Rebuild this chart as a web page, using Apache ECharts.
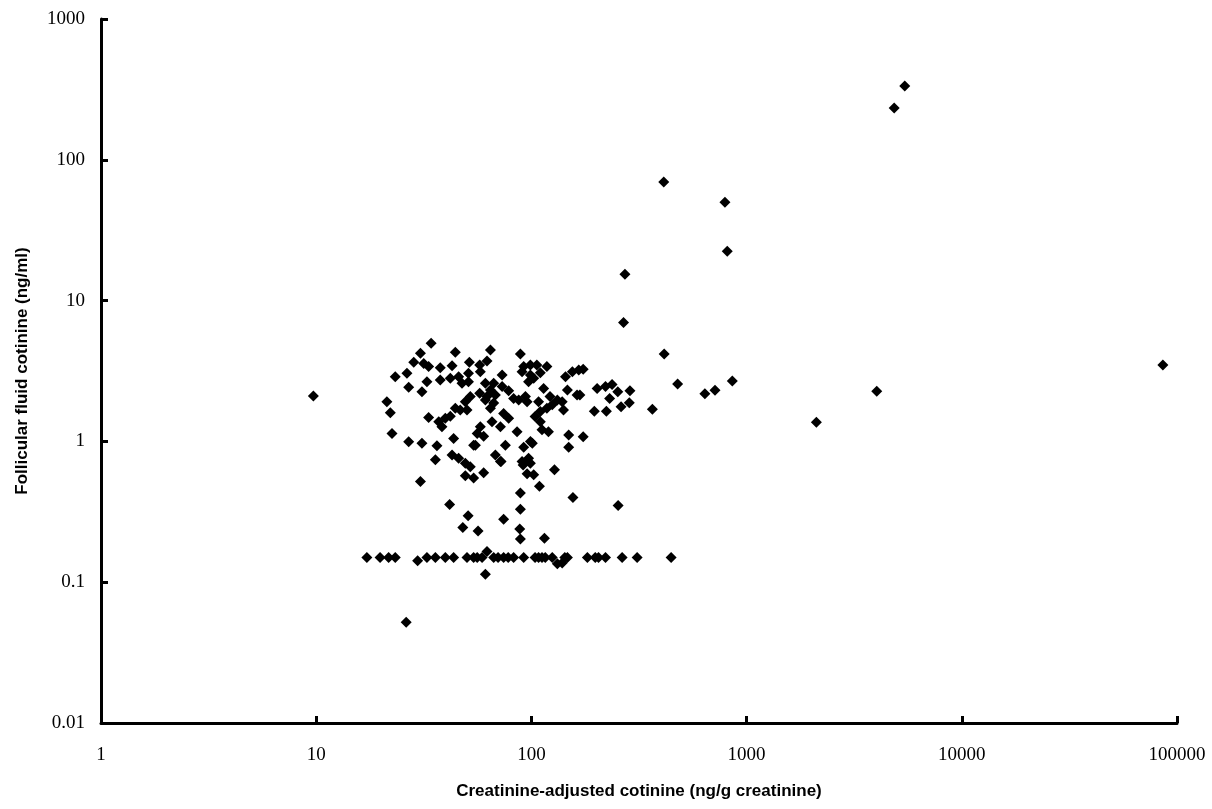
<!DOCTYPE html>
<html>
<head>
<meta charset="utf-8">
<script src="https://cdn.jsdelivr.net/npm/echarts@6/dist/echarts.min.js"></script>
<style>
html,body{margin:0;padding:0;background:#fff;}
#chart{width:1212px;height:809px;}
</style>
</head>
<body>
<div id="chart"></div>
<script>
// Creatinine-adjusted cotinine (ng/g creatinine)
var xValues = [
  9.7, 5430, 4850, 412, 793, 813, 272, 268, 414, 174, 478, 858, 640, 713, 4025, 2110, 365, 174,
  202, 221, 237, 252, 287, 231, 196, 223, 261, 285, 86000, 168,
  34.2, 30.5, 44.3, 28.4, 31.6, 33.3, 37.7, 42.8, 51.5, 23.3, 26.4, 26.9, 31.0, 32.7, 37.7, 42, 45.9,
  51, 51, 47.6, 21.3, 22.1, 52, 49.3, 50.2, 46.7, 44.3, 33.3, 37.1, 38.4, 39.8, 42, 22.5, 26.9, 31.0,
  36.4, 43.5, 53.9, 35.8, 42.8, 45.9, 49.3, 52,
  30.5, 41.7, 50.8, 48, 56.5, 61.1, 26.2, 49.3, 53.9, 60,
  72.3, 91.5, 98.9, 95.5, 102.5, 128, 109, 88.9, 156, 253, 88.9, 74.3, 88.3, 88.9, 115,
  17.2, 19.8, 21.7, 23.3, 29.6, 32.7, 35.8, 39.8, 43.5, 50.2, 53.9, 59, 62.2, 66.8, 74.3, 82.7, 92.1,
  108, 116, 125, 132, 139, 147, 182, 198, 221, 264, 310, 446, 56, 70, 78, 104, 112, 143, 205,
  64.5, 88.9, 62.2, 57.5, 57.9, 92.1, 98.9, 106, 118, 90.5, 98.9, 110, 73.1, 61.1, 66.8, 57.5, 64.5,
  73.1, 78.4, 97, 102.5, 114, 144, 155, 166, 147, 163, 62.2, 68, 66.8, 61.1, 64.5, 82.7, 87.3, 93.8,
  95.5, 108, 122, 132, 125, 139, 110, 118, 141, 74.3, 78.4, 71.8, 65.6, 57.9, 60, 104, 110, 112, 120,
  85.8, 101, 92.1, 75.7, 149, 149, 68, 71.8, 90.5, 97, 54.9, 56, 99
];
// Follicular fluid cotinine (ng/ml)
var yValues = [
  2.1, 334, 233, 69.5, 50, 22.4, 15.4, 7.0, 4.18, 3.25, 2.56, 2.69, 2.18, 2.31, 2.27, 1.37, 1.69, 1.08,
  2.38, 2.45, 2.54, 2.25, 2.29, 2.02, 1.64, 1.64, 1.76, 1.88, 3.49, 2.14,
  4.98, 4.22, 4.29, 3.65, 3.58, 3.40, 3.33, 3.45, 3.65, 2.88, 3.05, 2.42, 2.25, 2.65, 2.73, 2.81, 2.88,
  3.05, 2.65, 2.59, 1.91, 1.60, 2.08, 1.91, 1.67, 1.67, 1.72, 1.48, 1.38, 1.27, 1.46, 1.51, 1.14, 0.995, 0.97,
  0.93, 1.05, 0.94, 0.74, 0.80, 0.76, 0.70, 0.66,
  0.52, 0.357, 0.297, 0.245, 0.231, 0.114, 0.052, 0.57, 0.55, 0.60,
  0.72, 0.68, 0.70, 0.59, 0.58, 0.63, 0.48, 0.43, 0.40, 0.35, 0.33, 0.28, 0.239, 0.203, 0.205,
  0.15, 0.15, 0.15, 0.15, 0.142, 0.15, 0.15, 0.15, 0.15, 0.15, 0.15, 0.15, 0.165, 0.15, 0.15, 0.15, 0.15,
  0.15, 0.15, 0.15, 0.135, 0.137, 0.15, 0.15, 0.15, 0.15, 0.15, 0.15, 0.15, 0.15, 0.15, 0.15, 0.15, 0.15, 0.15, 0.15,
  4.46, 4.18, 3.72, 3.49, 3.13, 3.40, 3.49, 3.49, 3.40, 3.13, 2.96, 3.07, 2.96, 2.59, 2.59, 2.20, 2.32,
  2.45, 2.29, 2.65, 2.81, 2.38, 2.88, 3.13, 3.22, 2.32, 2.14, 2.08, 2.14, 1.87, 1.97, 1.72, 2.02, 1.97, 2.08,
  1.91, 1.91, 2.08, 1.97, 1.82, 1.91, 1.63, 1.72, 1.67, 1.58, 1.46, 1.27, 1.38, 1.27, 1.09, 1.50, 1.38, 1.21, 1.17,
  1.17, 0.97, 0.91, 0.94, 1.11, 0.91, 0.80, 0.72, 0.72, 0.76, 0.94, 1.14, 1.0
];
var xTickLabels = ['1', '10', '100', '1000', '10000', '100000'];
var yTickLabels = ['0.01', '0.1', '1', '10', '100', '1000'];
var xTitle = 'Creatinine-adjusted cotinine (ng/g creatinine)';
var yTitle = 'Follicular fluid cotinine (ng/ml)';

var points = [];
var n = Math.min(xValues.length, yValues.length);
for (var i = 0; i < n; i++) points.push([xValues[i], yValues[i]]);

function labelFrom(list, minExp) {
  return function (v) {
    var e = Math.round(Math.log10(v));
    var idx = e - minExp;
    return list[idx] !== undefined ? list[idx] : '';
  };
}

var chart = echarts.init(document.getElementById('chart'), null, {renderer: 'canvas'});
var axisLabelStyle = {color: '#000', fontFamily: 'Liberation Serif', fontSize: 19};
chart.setOption({
  animation: false,
  backgroundColor: '#fff',
  grid: {left: 101, right: 35, top: 19, bottom: 86, containLabel: false},
  xAxis: {
    type: 'log', logBase: 10, min: 1, max: 100000,
    name: xTitle, nameLocation: 'middle', nameGap: 60,
    nameTextStyle: {color: '#000', fontFamily: 'Liberation Sans', fontWeight: 'bold', fontSize: 17},
    axisLine: {show: true, onZero: false, lineStyle: {color: '#000', width: 3}},
    axisTick: {show: true, inside: true, length: 7, lineStyle: {color: '#000', width: 3}},
    minorTick: {show: false},
    splitLine: {show: false},
    axisLabel: Object.assign({margin: 23, formatter: labelFrom(xTickLabels, 0)}, axisLabelStyle)
  },
  yAxis: {
    type: 'log', logBase: 10, min: 0.01, max: 1000,
    name: yTitle, nameLocation: 'middle', nameGap: 70, nameRotate: 90,
    nameTextStyle: {color: '#000', fontFamily: 'Liberation Sans', fontWeight: 'bold', fontSize: 17},
    axisLine: {show: true, onZero: false, lineStyle: {color: '#000', width: 3}},
    axisTick: {show: true, inside: true, length: 7, lineStyle: {color: '#000', width: 3}},
    splitLine: {show: false},
    axisLabel: Object.assign({margin: 16, formatter: labelFrom(yTickLabels, -2)}, axisLabelStyle)
  },
  series: [{
    type: 'scatter',
    data: points,
    symbol: 'diamond',
    symbolSize: 11,
    itemStyle: {color: '#000', opacity: 1},
    silent: true
  }]
});
</script>
</body>
</html>
